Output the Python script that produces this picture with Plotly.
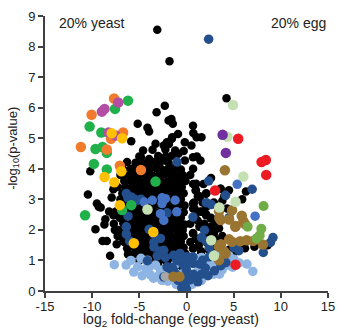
import plotly.graph_objects as go

FONT = "Liberation Sans, Arial, sans-serif"

x_ticks = [-15, -10, -5, 0, 5, 10, 15]
x_tick_labels = ["-15", "-10", "-5", "0", "5", "10", "15"]
y_ticks = [0, 1, 2, 3, 4, 5, 6, 7, 8, 9]

# ---- data (log2 fold-change, -log10 p) ----
black_pts = [
    (-3.1, 8.55), (-1.8, 7.52), (-2.3, 6.06), (-3.17, 5.85), (-1.6, 5.63), (-1.45, 5.47), (-1.9, 5.58),
    (-5.17, 5.47), (-4.14, 5.34), (-3.96, 5.22), (-5.86, 4.9), (-3.28, 4.82), (-2.41, 4.76), (-2.24, 4.63),
    (-1.52, 5.03), (-0.9, 5.14), (-1.86, 4.81), (0.69, 5.41), (0.72, 5.17), (1.07, 5.03), (1.59, 5.03),
    (1.48, 4.27), (4.24, 6.31), (0.52, 4.76), (-0.18, 4.87), (-2.07, 4.87), (-1.55, 4.98),
    # left fringe
    (-10.2, 3.92), (-10.45, 3.16), (-9.5, 2.86), (-9.3, 2.76), (-9.65, 2.02), (-8.6, 2.35), (-8.7, 2.18),
    (-8.9, 1.64), (-8.45, 1.64), (-8.1, 1.15), (-7.4, 1.53), (-6.7, 1.64), (-7.75, 2.48), (-7.07, 2.4),
    (-6.2, 1.2), (-5.86, 1.15), (-7.75, 3.33), (-7.93, 3.06), (-9.1, 2.73), (-8.2, 2.6), (-7.6, 2.0), (-7.3, 1.8),
    # core rows
    (-4.6, 4.6), (-3.6, 4.62), (-1.2, 4.6), (-0.3, 4.58),
    (-5.0, 4.4), (-4.83, 4.38), (-3.96, 4.32), (-3.0, 4.42), (-2.2, 4.4), (-1.55, 4.43), (-0.86, 4.49), (0.69, 4.38),
    (-6.3, 4.22), (-5.4, 4.2), (-4.6, 4.18), (-4.0, 4.2), (-3.4, 4.22), (-2.93, 4.16), (-2.41, 4.27), (-1.9, 4.2), (-1.03, 4.16), (-0.17, 4.27),
    (-6.7, 3.98), (-5.9, 4.0), (-5.2, 4.02), (-4.5, 3.98), (-3.9, 4.0), (-3.2, 4.02), (-2.6, 3.98), (-1.9, 4.0), (-1.3, 4.02), (-0.6, 3.98),
    (-7.0, 3.8), (-6.3, 3.78), (-5.6, 3.8), (-5.0, 3.82), (-4.3, 3.8), (-3.6, 3.78), (-2.9, 3.8), (-2.3, 3.82), (-1.6, 3.8), (-1.0, 3.78), (-0.4, 3.8),
    (-6.6, 3.6), (-5.9, 3.62), (-5.3, 3.6), (-4.7, 3.58), (-4.0, 3.6), (-3.3, 3.62), (-2.7, 3.6), (-2.0, 3.58), (-1.4, 3.6), (-0.7, 3.62), (-0.1, 3.6),
    (-7.3, 3.4), (-6.5, 3.42), (-5.8, 3.4), (-5.1, 3.38), (-4.4, 3.4), (-3.8, 3.42), (-3.1, 3.4), (-2.4, 3.38), (-1.8, 3.4), (-1.1, 3.42), (-0.5, 3.4),
    (-6.8, 3.2), (-6.1, 3.22), (-5.5, 3.2), (-4.8, 3.18), (-4.1, 3.2), (-3.5, 3.22), (-2.8, 3.2), (-2.2, 3.18), (-1.5, 3.2), (-0.9, 3.22), (-0.3, 3.2),
    (-7.0, 3.0), (-6.4, 3.02), (-5.7, 3.0), (-5.0, 2.98), (-4.4, 3.0), (-3.7, 3.02), (-3.1, 3.0), (-2.5, 2.98), (-1.8, 3.0), (-1.2, 3.02), (-0.6, 3.0),
    (-6.6, 2.8), (-6.0, 2.82), (-5.3, 2.8), (-4.6, 2.78), (-4.0, 2.8), (-3.3, 2.82), (-2.7, 2.8), (-2.0, 2.78), (-1.4, 2.8), (-0.8, 2.82), (-0.2, 2.8),
    (-7.5, 2.6), (-6.8, 2.62), (-6.2, 2.6), (-5.5, 2.58), (-4.8, 2.6), (-4.2, 2.62), (-3.5, 2.6), (-2.9, 2.58), (-2.2, 2.6), (-1.6, 2.62), (-1.0, 2.6), (-0.3, 2.58),
    (-7.0, 2.4), (-6.4, 2.42), (-5.7, 2.4), (-5.0, 2.38), (-4.4, 2.4), (-3.8, 2.42), (-3.1, 2.4), (-2.5, 2.38), (-1.9, 2.4), (-1.2, 2.42), (-0.6, 2.4),
    (-7.7, 2.2), (-6.7, 2.22), (-6.0, 2.2), (-5.3, 2.18), (-4.7, 2.2), (-4.0, 2.22), (-3.4, 2.2), (-2.7, 2.18), (-2.1, 2.2), (-1.5, 2.22), (-0.8, 2.2), (-0.2, 2.18),
    (-7.2, 2.0), (-6.4, 2.02), (-5.8, 2.0), (-5.1, 1.98), (-4.5, 2.0), (-3.8, 2.02), (-3.2, 2.0), (-2.5, 1.98), (-1.8, 2.0), (-1.1, 2.02), (-0.4, 2.0),
    (-6.9, 1.8), (-6.1, 1.82), (-5.5, 1.8), (-4.8, 1.78), (-4.2, 1.8), (-3.5, 1.82), (-2.9, 1.8), (-2.2, 1.78), (-1.6, 1.8), (-0.9, 1.82), (-0.3, 1.8),
    (-6.6, 1.6), (-5.8, 1.62), (-5.2, 1.6), (-4.5, 1.58), (-3.9, 1.6), (-3.2, 1.62), (-2.6, 1.6), (-1.9, 1.58), (-1.3, 1.6), (-0.6, 1.62),
    (-6.3, 1.4), (-5.5, 1.42), (-4.9, 1.4), (-4.2, 1.38), (-3.6, 1.4), (-2.9, 1.42), (-2.3, 1.4), (-1.6, 1.38), (-1.0, 1.4), (-0.3, 1.42),
    (-6.0, 1.2), (-5.3, 1.22), (-4.6, 1.2), (-3.9, 1.18), (-3.3, 1.2), (-2.6, 1.22), (-2.0, 1.2), (-1.3, 1.18), (-0.7, 1.2), (-0.1, 1.22),
    (-5.0, 1.0), (-4.3, 1.02), (-3.6, 1.0), (-2.9, 0.98), (-2.2, 1.0), (-1.5, 1.02), (-0.8, 1.0), (0.2, 1.02),
    (-3.0, 0.82), (-1.9, 0.8), (-0.5, 0.8),
    # right cluster
    (0.7, 3.5), (1.0, 3.3), (1.2, 3.1), (0.8, 2.9), (1.4, 3.1), (0.7, 2.7), (1.5, 2.6), (2.1, 2.75), (2.1, 2.5),
    (2.6, 2.4), (3.1, 2.25), (3.45, 2.05), (1.2, 2.3), (1.4, 2.1), (0.7, 1.9), (1.0, 1.7), (2.4, 1.9), (2.9, 1.9),
    (2.1, 1.6), (0.7, 1.4), (1.55, 1.3), (2.4, 1.35), (3.1, 1.7), (3.8, 1.8), (4.5, 1.35), (5.0, 1.25), (6.0, 1.5),
    (6.2, 1.4), (8.6, 1.5), (7.2, 1.45), (2.6, 3.7), (2.1, 3.2), (3.6, 3.35), (4.5, 3.3), (6.3, 3.26), (5.9, 3.0),
    (3.8, 2.95), (4.3, 2.7), (4.0, 3.1), (0.7, 4.0), (1.1, 4.4), (0.4, 3.8), (1.8, 3.5), (2.9, 2.9), (0.4, 2.2),
    (1.7, 2.9), (0.9, 2.45), (1.9, 2.2), (2.6, 2.1), (0.4, 1.6), (1.3, 1.5), (1.8, 1.8), (3.2, 1.45), (1.38, 3.08),
    (0.69, 2.86), (0.86, 2.7), (1.55, 2.59), (2.07, 2.48), (2.59, 2.37), (1.38, 2.1), (0.69, 1.88), (1.03, 1.72),
    (2.41, 1.93), (2.93, 1.93), (2.07, 1.61), (0.69, 1.39), (1.55, 1.28), (2.41, 1.34), (1.03, 3.51), (0.97, 3.29),
    (2.07, 3.18), (3.62, 3.35),
]

lightblue_pts = [
    (-7.65, 0.86), (-4.83, 1.07), (-4.14, 1.01), (-5.17, 0.79), (-4.31, 0.74), (-3.28, 0.85), (-2.76, 0.69),
    (-3.79, 0.52), (-3.1, 0.47), (-2.41, 0.58), (-1.38, 0.74), (6.41, 0.88), (7.03, 0.64), (3.31, 1.21),
    (4.0, 1.04), (4.52, 1.15), (5.03, 1.04), (2.62, 0.88), (1.93, 0.77), (1.24, 0.66), (3.31, 0.88),
    (-0.14, 0.66), (-1.17, 0.88), (-1.52, 0.55), (0.03, 0.83), (2.62, 1.04), (-5.6, 0.62), (-4.7, 0.5),
    (-2.0, 0.32), (-1.1, 0.22), (0.6, 0.22), (1.6, 0.35), (2.1, 0.55), (3.8, 0.7), (4.4, 0.85), (5.6, 0.92),
    (-3.5, 0.42), (-2.6, 0.35), (-6.4, 0.85), (-5.9, 1.0), (-1.8, 0.45), (2.9, 0.55), (3.5, 0.55), (4.9, 0.78),
    (-0.6, 0.55), (0.9, 0.9), (1.6, 1.1), (-4.0, 0.75),
]

darkblue_pts = [
    (2.35, 8.24), (-1.0, 4.22), (2.35, 3.6), (6.96, 3.33), (4.14, 3.13), (2.1, 2.89), (2.62, 2.83),
    (4.52, 2.4), (9.17, 1.75), (8.9, 1.59), (8.14, 1.26), (1.59, 1.75), (2.1, 1.64), (2.41, 1.42),
    (5.03, 1.42), (5.55, 1.32), (1.9, 1.99), (0.69, 2.42),
    (-6.21, 3.05), (-5.52, 3.0), (-4.83, 3.0), (-6.38, 3.19), (-5.86, 3.08), (-6.2, 2.45), (-6.38, 2.1),
    (-6.38, 1.86), (-6.03, 1.64), (-3.45, 1.59), (-2.76, 1.31), (-2.24, 1.1), (-4.14, 0.99), (-3.1, 1.15),
    (-3.96, 2.02), (-3.45, 1.86), (-2.07, 2.56), (-2.76, 1.72), (-3.45, 1.44), (-2.41, 1.33), (-1.03, 1.01),
    (0.0, 1.12), (0.69, 0.9), (1.72, 1.01), (2.41, 1.12), (-1.38, 0.68), (0.0, 0.68), (1.03, 0.46),
    (-2.41, 0.46), (-1.38, 1.17), (-0.69, 1.23), (-0.34, 0.85), (0.34, 0.36), (-2.07, 0.79), (-1.72, 0.63),
    (-0.34, 0.41), (-1.03, 0.52), (0.34, 0.96), (0.69, 1.12), (-1.52, 0.77), (0.21, 0.5), (-0.14, 0.17),
    (-0.48, 0.28), (0.72, 0.55), (1.59, 0.55), (2.28, 0.5), (2.96, 0.66), (3.65, 0.83), (4.17, 0.93),
    (0.55, 0.93), (1.41, 0.88), (-0.83, 0.99), (0.21, 1.1), (-0.5, 0.1), (0.0, 0.05), (1.2, 0.3), (2.0, 0.75),
    (-0.9, 0.35), (-5.17, 2.97),
]

medblue_pts = [
    (-3.62, 2.97), (-2.59, 2.86), (-2.76, 2.53), (-2.41, 2.31), (-1.21, 2.97), (-2.24, 3.02),
    (-1.03, 2.59), (-4.48, 2.91), (5.38, 3.49), (7.27, 2.45), (-2.59, 3.05),
]

gray_pts = [(-2.24, 0.47)]

brown_pts = [
    (-1.38, 0.47), (-0.75, 0.47), (4.07, 3.95),
    (3.45, 2.61), (4.83, 2.64), (3.62, 2.32), (5.86, 2.46), (6.03, 2.28), (5.17, 2.1), (4.52, 2.34),
    (5.21, 2.13), (6.24, 2.18), (3.48, 2.4),
    (4.83, 1.61), (5.69, 1.63), (6.38, 1.66), (7.07, 1.64), (8.1, 1.52), (3.65, 1.53), (4.52, 1.69),
    (3.45, 1.45), (4.14, 1.23), (3.45, 1.01), (4.0, 1.29),
]

lime_pts = [(8.17, 2.78), (6.48, 2.1), (7.93, 2.04), (7.76, 1.82), (7.41, 1.72)]

lightgreen_pts = [
    (4.93, 6.09), (4.34, 5.05), (6.03, 3.75), (5.2, 2.92), (3.48, 2.73), (2.62, 1.66), (2.9, 1.15), (-4.14, 2.67),
]

red_pts = [(5.48, 4.98), (8.41, 4.29), (7.96, 4.22), (8.45, 3.8), (3.03, 3.29), (5.2, 0.86)]

purple_pts = [(3.83, 5.11), (4.17, 4.52)]

yellow_pts = [
    (-7.93, 5.16), (-6.83, 5.0), (-6.9, 3.92), (-8.69, 3.73), (-7.65, 3.56), (-7.07, 2.81), (-3.52, 1.93), (-5.58, 1.56),
]

orange_pts = [
    (-7.68, 6.3), (-10.06, 5.77), (-8.0, 4.98), (-6.72, 5.19), (-11.2, 4.71), (-8.45, 4.63), (-7.07, 4.1), (-4.83, 3.96),
]

magenta_pts = [(-7.24, 6.17), (-8.69, 5.96), (-8.97, 5.87), (-8.27, 5.19), (-7.52, 5.09)]

green_pts = [
    (-6.2, 6.23), (-7.58, 5.96), (-10.27, 5.38), (-9.03, 5.19), (-9.65, 4.65), (-8.9, 4.71), (-8.45, 4.52),
    (-9.82, 4.16), (-8.45, 3.98), (-10.75, 2.48), (-5.86, 2.81), (-6.83, 2.65), (-3.28, 3.58),
]

groups = [
    (black_pts, "#000000", 8.5),
    (lightblue_pts, "#8db4e2", 9.5),
    (darkblue_pts, "#234f8d", 9.5),
    (medblue_pts, "#4472c4", 9.5),
    (gray_pts, "#a6a6a6", 9.5),
    (brown_pts, "#9a7431", 10.5),
    (lime_pts, "#70ad47", 10),
    (lightgreen_pts, "#c5e0b3", 10.5),
    (red_pts, "#ed1c24", 10.5),
    (purple_pts, "#7030a0", 10.5),
    (green_pts, "#21b14b", 10.5),
    (orange_pts, "#f07b2c", 10.5),
    (magenta_pts, "#b24fa5", 10.5),
    (yellow_pts, "#ffc000", 10.5),
]

fig = go.Figure()
for pts, color, size in groups:
    fig.add_trace(go.Scatter(
        x=[p[0] for p in pts], y=[p[1] for p in pts], mode="markers",
        marker=dict(color=color, size=size, line=dict(width=0)),
        showlegend=False, hoverinfo="skip",
    ))

axis_common = dict(
    showline=True, linecolor="#404040", linewidth=2, ticks="outside", ticklen=5,
    tickwidth=2, tickcolor="#404040", showgrid=False, zeroline=False,
    tickfont=dict(size=13, family=FONT, color="#222222"),
)
fig.update_xaxes(range=[-15, 15], tickvals=x_ticks, ticktext=x_tick_labels,
                 ticklabelstandoff=-3, **axis_common)
fig.update_yaxes(range=[0, 9], tickvals=y_ticks, **axis_common)

fig.update_layout(
    width=344, height=328,
    margin=dict(l=45, r=9, t=15, b=37),
    plot_bgcolor="white", paper_bgcolor="white",
    font=dict(family=FONT, color="#222222"),
    annotations=[
        dict(text="20% yeast", x=0.041, y=0.976, xref="paper", yref="paper",
             xanchor="left", yanchor="middle", showarrow=False, font=dict(size=14)),
        dict(text="20% egg", x=1.0, y=0.976, xref="paper", yref="paper",
             xanchor="right", yanchor="middle", showarrow=False, font=dict(size=14)),
        dict(text="log<sub>2</sub> fold-change (egg-yeast)", x=0.445, y=-0.104, xref="paper", yref="paper",
             xanchor="center", yanchor="middle", showarrow=False, font=dict(size=14)),
        dict(text="-log<sub>10</sub>(p-value)", x=-0.112, y=0.518, xref="paper", yref="paper",
             xanchor="center", yanchor="middle", showarrow=False, textangle=-90, font=dict(size=13)),
    ],
)

fig.write_html("out.html")
